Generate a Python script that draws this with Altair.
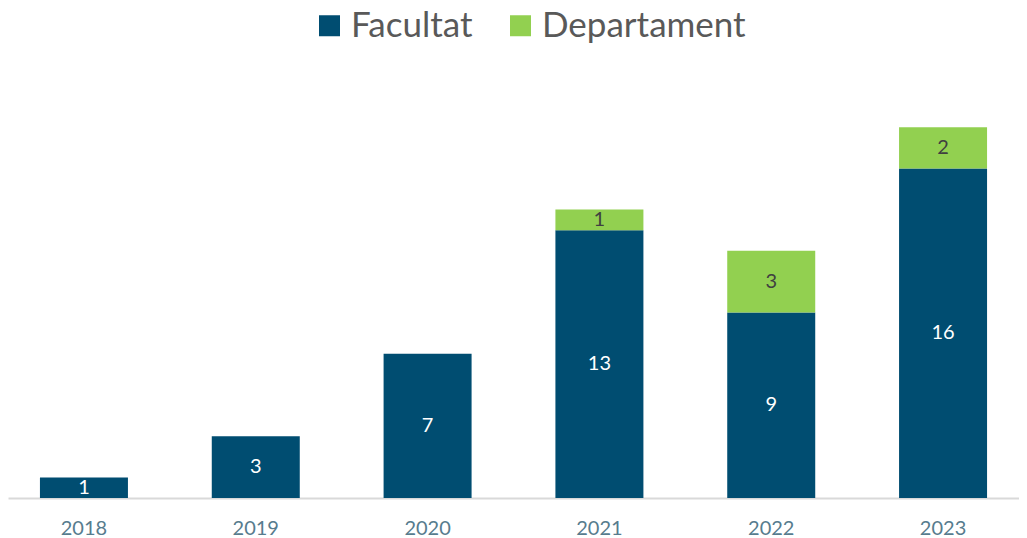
import altair as alt
import pandas as pd

years = ["2018", "2019", "2020", "2021", "2022", "2023"]
facultat = [1, 3, 7, 13, 9, 16]
departament = [0, 0, 0, 1, 3, 2]
series = ["Facultat", "Departament"]
colors = ["#004D71", "#92D050"]
label_colors = ["#FFFFFF", "#404040"]

rows = []
for i, y in enumerate(years):
    rows.append({"year": y, "serie": series[0], "value": facultat[i], "ord": 0})
    rows.append({"year": y, "serie": series[1], "value": departament[i], "ord": 1})
df = pd.DataFrame(rows)

FONT = "Lato"

x_scale = alt.Scale(paddingInner=0.488, paddingOuter=0.186)
x_axis = alt.Axis(
    title=None, ticks=False, labelAngle=0, labelFontSize=20, labelFont=FONT,
    labelColor="#577C8E", labelPadding=20, domainColor="#D9D9D9", domainWidth=2,
)

base = alt.Chart(df)

bars = base.mark_bar(size=88).encode(
    x=alt.X("year:N", sort=years, scale=x_scale, axis=x_axis),
    y=alt.Y("value:Q", stack="zero", scale=alt.Scale(domain=[0, 20], nice=False), axis=None),
    color=alt.Color(
        "serie:N",
        sort=series,
        scale=alt.Scale(domain=series, range=colors),
        legend=alt.Legend(
            title=None, orient="none", direction="horizontal",
            legendX=304, legendY=-78, padding=0,
            symbolType="square", symbolSize=441, symbolStrokeWidth=0,
            labelFontSize=35, labelFont=FONT, labelColor="#595959", labelLimit=400,
            labelOffset=4, columnPadding=30, symbolOpacity=1,
        ),
    ),
    order=alt.Order("ord:Q", sort="ascending"),
)

texts = (
    base.transform_filter(alt.datum.value > 0)
    .transform_stack(stack="value", groupby=["year"], as_=["v0", "v1"], sort=[alt.SortField("ord", "ascending")])
    .transform_calculate(mid="(datum.v0 + datum.v1) / 2")
    .mark_text(fontSize=20, font=FONT, baseline="middle", align="center")
    .encode(
        x=alt.X("year:N", sort=years, scale=x_scale, axis=x_axis),
        y=alt.Y("mid:Q"),
        text=alt.Text("value:Q"),
        color=alt.Color("serie:N", scale=alt.Scale(domain=series, range=label_colors), legend=None),
    )
)

chart = (
    alt.layer(bars, texts)
    .resolve_scale(color="independent")
    .properties(
        width=1011, height=412,
        autosize=alt.AutoSizeParams(type="none"),
        padding={"left": 0, "top": 78, "right": 0, "bottom": 45},
    )
    .configure_view(stroke=None)
)

chart.save("out.html", embed_options={"renderer": "svg", "actions": False})
